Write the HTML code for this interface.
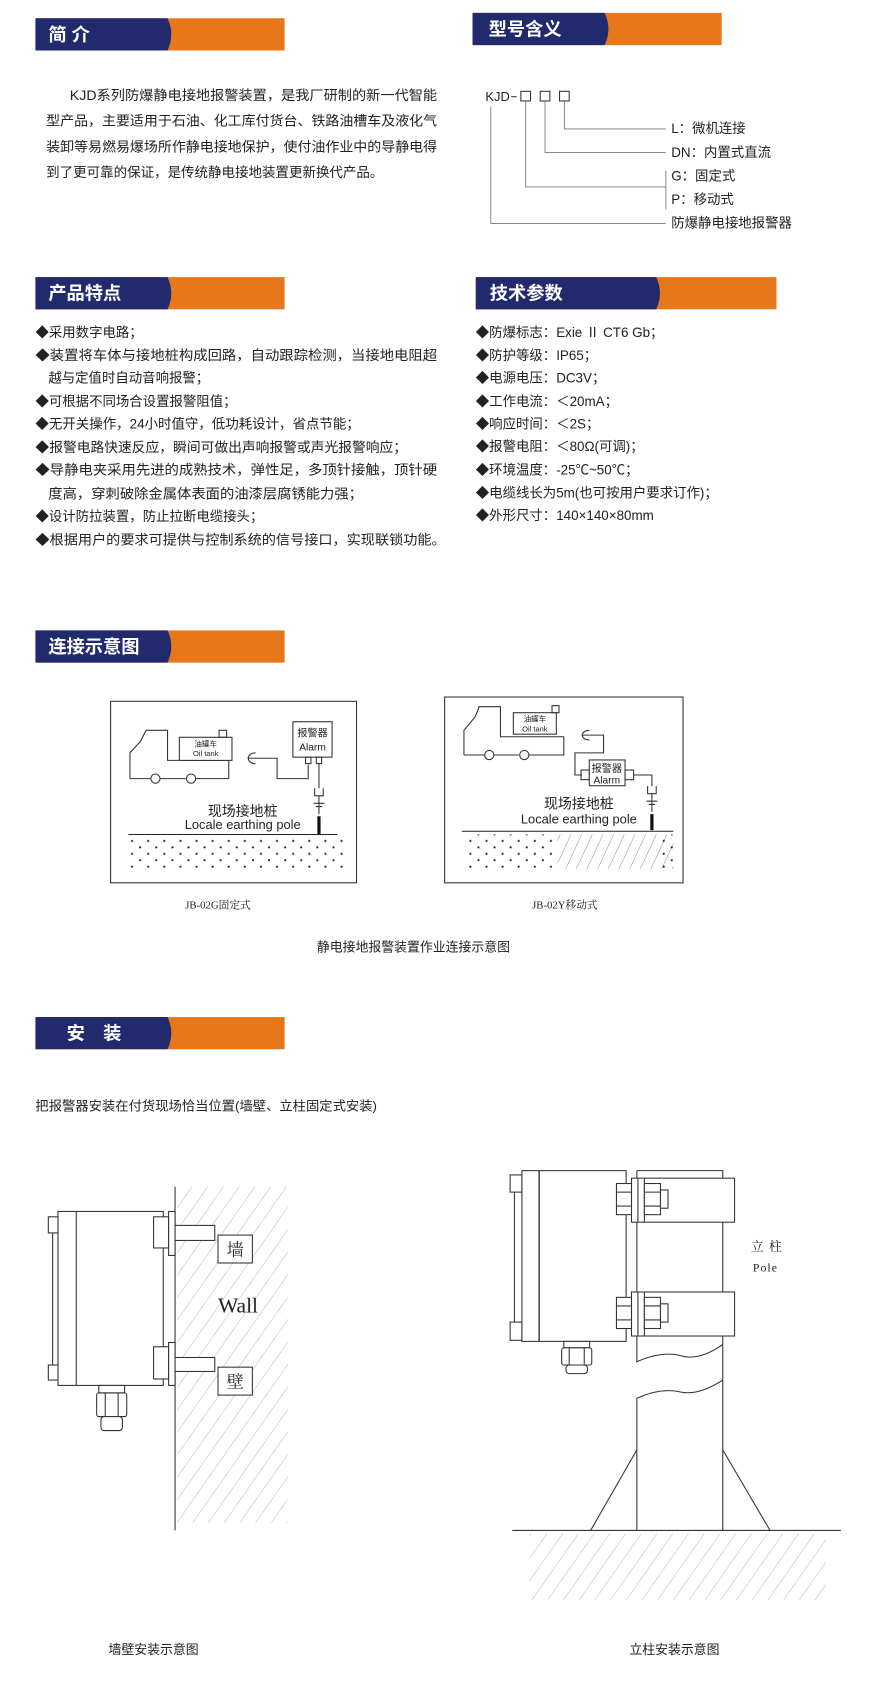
<!DOCTYPE html>
<html><head><meta charset="utf-8"><style>
html,body{margin:0;padding:0;background:#fff;}
svg{display:block;}
text{font-family:"Liberation Sans","Noto Sans CJK SC",sans-serif;fill:#222;}
.h{fill:#fff;font-weight:bold;font-size:17px;}
.t{font-size:12.5px;}
.s{font-family:"Liberation Serif","Noto Serif CJK SC",serif;}
.l{stroke:#333;stroke-width:1;fill:none;}
.lw{stroke:#333;stroke-width:1;fill:#fff;}
</style></head><body>
<svg width="880" height="1681" viewBox="0 0 819.4 1565.2" xmlns="http://www.w3.org/2000/svg">
<defs>
<pattern id="hat" width="12" height="12" patternUnits="userSpaceOnUse" patternTransform="rotate(35)">
<line x1="0" y1="0" x2="0" y2="12" stroke="#aaa" stroke-width="0.8"/></pattern>
<pattern id="hat2" width="9" height="9" patternUnits="userSpaceOnUse" patternTransform="rotate(25)">
<line x1="0" y1="0" x2="0" y2="9" stroke="#666" stroke-width="0.7"/></pattern>
<pattern id="dots" width="15" height="12" patternUnits="userSpaceOnUse">
<circle cx="3" cy="3" r="1" fill="#222"/><circle cx="10.5" cy="9" r="1" fill="#222"/></pattern>
</defs>

<!-- headers -->
<g>
<rect x="33" y="17" width="232" height="30" fill="#e6781b"/>
<path d="M33,17 H156 Q163,32 156,47 H33 Z" fill="#222a6e"/>
<text x="45" y="38" class="h">简 介</text>

<rect x="440" y="12" width="232" height="30" fill="#e6781b"/>
<path d="M440,12 H563 Q570,27 563,42 H440 Z" fill="#222a6e"/>
<text x="455" y="33" class="h">型号含义</text>

<rect x="33" y="258" width="232" height="30" fill="#e6781b"/>
<path d="M33,258 H156 Q163,273 156,288 H33 Z" fill="#222a6e"/>
<text x="45" y="279" class="h">产品特点</text>

<rect x="443" y="258" width="280" height="30" fill="#e6781b"/>
<path d="M443,258 H611 Q618,273 611,288 H443 Z" fill="#222a6e"/>
<text x="456" y="279" class="h">技术参数</text>

<rect x="33" y="587" width="232" height="30" fill="#e6781b"/>
<path d="M33,587 H156 Q163,602 156,617 H33 Z" fill="#222a6e"/>
<text x="45" y="608" class="h">连接示意图</text>

<rect x="33" y="947" width="232" height="30" fill="#e6781b"/>
<path d="M33,947 H156 Q163,962 156,977 H33 Z" fill="#222a6e"/>
<text x="62" y="968" class="h">安　装</text>
</g>

<!-- intro -->
<g class="t">
<text x="65" y="93" textLength="342" lengthAdjust="spacingAndGlyphs">KJD系列防爆静电接地报警装置，是我厂研制的新一代智能</text>
<text x="43" y="117" textLength="364" lengthAdjust="spacingAndGlyphs">型产品，主要适用于石油、化工库付货台、铁路油槽车及液化气</text>
<text x="43" y="141" textLength="364" lengthAdjust="spacingAndGlyphs">装卸等易燃易爆场所作静电接地保护，使付油作业中的导静电得</text>
<text x="43" y="165" textLength="314" lengthAdjust="spacingAndGlyphs">到了更可靠的保证，是传统静电接地装置更新换代产品。</text>
</g>

<!-- model -->
<g class="t">
<text x="452" y="94" font-size="12">KJD</text>
<line x1="476" y1="90" x2="481" y2="90" stroke="#333"/>
<rect x="485" y="85" width="9" height="9" class="l" stroke="#777"/>
<rect x="503" y="85" width="9" height="9" class="l" stroke="#777"/>
<rect x="521" y="85" width="9" height="9" class="l" stroke="#777"/>
<path d="M525.5,94 V120 H620 M507.5,94 V142 H620 M489.5,94 V174 H620 M620,159 V195 M457,99 V208 H620" stroke="#777" fill="none" stroke-width="0.8"/>
<text x="625" y="124">L：微机连接</text>
<text x="625" y="146">DN：内置式直流</text>
<text x="625" y="168">G：固定式</text>
<text x="625" y="190">P：移动式</text>
<text x="625" y="212">防爆静电接地报警器</text>
</g>

<!-- features -->
<g class="t">
<text x="33" y="314">◆采用数字电路；</text>
<text x="33" y="335" textLength="374" lengthAdjust="spacingAndGlyphs">◆装置将车体与接地桩构成回路，自动跟踪检测，当接地电阻超</text>
<text x="45" y="356">越与定值时自动音响报警；</text>
<text x="33" y="378">◆可根据不同场合设置报警阻值；</text>
<text x="33" y="399" textLength="302" lengthAdjust="spacingAndGlyphs">◆无开关操作，24小时值守，低功耗设计，省点节能；</text>
<text x="33" y="421" textLength="346" lengthAdjust="spacingAndGlyphs">◆报警电路快速反应，瞬间可做出声响报警或声光报警响应；</text>
<text x="33" y="442" textLength="374" lengthAdjust="spacingAndGlyphs">◆导静电夹采用先进的成熟技术，弹性足，多顶针接触，顶针硬</text>
<text x="45" y="464" textLength="293" lengthAdjust="spacingAndGlyphs">度高，穿刺破除金属体表面的油漆层腐锈能力强；</text>
<text x="33" y="485">◆设计防拉装置，防止拉断电缆接头；</text>
<text x="33" y="507" textLength="382" lengthAdjust="spacingAndGlyphs">◆根据用户的要求可提供与控制系统的信号接口，实现联锁功能。</text>
</g>
<g class="t">
<text x="443" y="314">◆防爆标志：Exie Ⅱ CT6 Gb；</text>
<text x="443" y="335">◆防护等级：IP65；</text>
<text x="443" y="356">◆电源电压：DC3V；</text>
<text x="443" y="378">◆工作电流：＜20mA；</text>
<text x="443" y="399">◆响应时间：＜2S；</text>
<text x="443" y="420">◆报警电阻：＜80Ω(可调)；</text>
<text x="443" y="442">◆环境温度：-25℃~50℃；</text>
<text x="443" y="463">◆电缆线长为5m(也可按用户要求订作)；</text>
<text x="443" y="484">◆外形尺寸：140×140×80mm</text>
</g>

<!-- connection diagram 1 -->
<g>
<rect x="103" y="653" width="229" height="169" class="l" stroke="#444"/>
<path d="M121,725 V701 L131,690 Q134,684 136,680 H156 V708 H213 V725 H182 M173,725 H149 M140,725 H121" class="l"/>
<circle cx="144.7" cy="725" r="4.3" class="l"/>
<circle cx="177.9" cy="725" r="4.3" class="l"/>
<rect x="167" y="686.5" width="49" height="21.5" class="lw"/>
<rect x="204" y="680" width="7" height="6.5" class="l"/>
<text x="191.5" y="695" font-size="7" text-anchor="middle">油罐车</text>
<text x="191.5" y="704" font-size="7" text-anchor="middle">Oil tank</text>
<path d="M238,701 Q232,701 231,706 Q232,711 238,711 M231,706 H247 V706 H258 V725 H287 V712" class="l"/>
<rect x="272.7" y="672" width="36.5" height="33" class="lw"/>
<text x="291" y="686" font-size="9.5" text-anchor="middle">报警器</text>
<text x="291" y="699" font-size="9.5" text-anchor="middle">Alarm</text>
<rect x="284.5" y="705" width="5" height="6" class="l"/><rect x="294.5" y="705" width="5" height="6" class="l"/>
<path d="M297,711 V734 M293,734 V741 H301 V734 M292,748 H302 M294,751 H300 M297,741 V758" class="l"/>
<rect x="295.5" y="760" width="3" height="17" fill="#111"/>
<line x1="119.7" y1="777" x2="314" y2="777" stroke="#222" stroke-width="1"/>
<rect x="120" y="780" width="200" height="32" fill="url(#dots)"/>
<text x="226" y="760" font-size="13" text-anchor="middle">现场接地桩</text>
<text x="226" y="772" font-size="12" text-anchor="middle">Locale  earthing pole</text>
</g>

<!-- connection diagram 2 -->
<g>
<rect x="414" y="649" width="222" height="173" class="l" stroke="#444"/>
<path d="M432,703 V680 L442,668 Q445,662 446,658 H466 V686 H525 V703 H493 M483,703 H460 M451,703 H432" class="l"/>
<circle cx="455.6" cy="703" r="4.3" class="l"/>
<circle cx="488.2" cy="703" r="4.3" class="l"/>
<rect x="478" y="663.6" width="40" height="20" class="lw"/>
<rect x="514" y="657" width="6.5" height="6.6" class="l"/>
<text x="498" y="672" font-size="7" text-anchor="middle">油罐车</text>
<text x="498" y="681" font-size="7" text-anchor="middle">Oil tank</text>
<path d="M549,680 Q543,680 542,684.5 Q543,689 549,689 M542,684.5 H562 V701 H535.4 V721.6 H542" class="l"/>
<rect x="541" y="717" width="7.7" height="9" class="l"/>
<rect x="548.7" y="707.6" width="33.3" height="24" class="lw"/>
<rect x="582" y="717" width="8" height="9" class="l"/>
<text x="565" y="719" font-size="9.5" text-anchor="middle">报警器</text>
<text x="565" y="729.5" font-size="9.5" text-anchor="middle">Alarm</text>
<path d="M590,721.6 H607 V732 M603,732 V739 H611 V732 M602,746 H612 M604,749 H610 M607,739 V756" class="l"/>
<rect x="605.5" y="758" width="3" height="15" fill="#111"/>
<line x1="430" y1="774" x2="627" y2="774" stroke="#222" stroke-width="1"/>
<rect x="432" y="777" width="84" height="32" fill="url(#dots)"/>
<rect x="519" y="777" width="108" height="32" fill="url(#hat2)"/>
<rect x="612" y="777" width="15" height="32" fill="url(#dots)"/>
<text x="539" y="753" font-size="13" text-anchor="middle">现场接地桩</text>
<text x="539" y="767" font-size="12" text-anchor="middle">Locale earthing pole</text>
</g>
<text x="203" y="846" font-size="10" class="s" text-anchor="middle">JB-02G固定式</text>
<text x="526" y="846" font-size="10" class="s" text-anchor="middle">JB-02Y移动式</text>
<text x="385" y="886" font-size="12" text-anchor="middle">静电接地报警装置作业连接示意图</text>

<!-- install -->
<text x="33" y="1034" font-size="12" textLength="318" lengthAdjust="spacingAndGlyphs">把报警器安装在付货现场恰当位置(墙壁、立柱固定式安装)</text>

<!-- wall diagram -->
<g>
<rect x="165" y="1105" width="103" height="313" fill="url(#hat)"/>
<line x1="163" y1="1105" x2="163" y2="1425" stroke="#333"/>
<rect x="45" y="1133" width="9" height="15" class="lw"/>
<rect x="45" y="1271" width="9" height="14" class="lw"/>
<line x1="49" y1="1148" x2="49" y2="1271" stroke="#333"/>
<rect x="54" y="1128" width="98" height="162" class="lw"/>
<line x1="71" y1="1128" x2="71" y2="1290" stroke="#333"/>
<rect x="143" y="1133" width="14" height="29" class="lw"/>
<rect x="157" y="1128" width="6" height="41" class="lw"/>
<rect x="163" y="1141" width="37" height="14" class="lw"/>
<rect x="203" y="1150" width="32" height="26" class="lw"/>
<text x="219" y="1169" font-size="16" class="s" text-anchor="middle">墙</text>
<rect x="143" y="1254" width="14" height="30" class="lw"/>
<rect x="157" y="1250" width="6" height="40" class="lw"/>
<rect x="163" y="1264" width="37" height="13" class="lw"/>
<rect x="203" y="1273" width="32" height="26" class="lw"/>
<text x="219" y="1292" font-size="16" class="s" text-anchor="middle">壁</text>
<text x="203" y="1222" font-size="20" class="s">Wall</text>
<rect x="92" y="1290" width="24" height="7" class="lw"/>
<rect x="90" y="1297" width="28" height="22" rx="2" class="lw"/>
<rect x="94" y="1319" width="20" height="13" rx="3" class="lw"/>
<line x1="98" y1="1297" x2="98" y2="1319" stroke="#333"/><line x1="110" y1="1297" x2="110" y2="1319" stroke="#333"/>
</g>
<text x="143" y="1540" font-size="12" text-anchor="middle">墙壁安装示意图</text>

<!-- pole diagram -->
<g>
<rect x="493" y="1428" width="276" height="62" fill="url(#hat)"/>
<line x1="477" y1="1425" x2="783" y2="1425" stroke="#333"/>
<path d="M550,1425 L593,1350 M717,1425 L673,1350" class="l"/>
<path d="M593,1090 H673 V1425 M593,1090 V1268 Q615,1258 633,1262 Q650,1268 673,1252" class="l"/>
<path d="M593,1425 V1302 Q615,1292 633,1296 Q650,1300 673,1285" class="l"/>
<rect x="475" y="1094" width="11" height="16" class="lw"/>
<rect x="475" y="1231" width="11" height="17" class="lw"/>
<line x1="479" y1="1110" x2="479" y2="1231" stroke="#333"/>
<rect x="486" y="1090" width="97" height="159" class="lw"/>
<line x1="502" y1="1090" x2="502" y2="1249" stroke="#333" stroke-width="1.3"/>
<rect x="588" y="1097" width="96" height="41" class="lw"/>
<rect x="588" y="1203" width="96" height="41" class="lw"/>
<g class="l">
<rect x="574" y="1102" width="14" height="29" fill="#fff"/><line x1="574" y1="1110" x2="588" y2="1110"/><line x1="574" y1="1123" x2="588" y2="1123"/>
<line x1="594" y1="1097" x2="594" y2="1138"/><line x1="600" y1="1097" x2="600" y2="1138"/>
<rect x="600" y="1102" width="15" height="29" fill="#fff"/><line x1="600" y1="1110" x2="615" y2="1110"/><line x1="600" y1="1123" x2="615" y2="1123"/>
<rect x="615" y="1108" width="7" height="17" fill="#fff"/>
<rect x="574" y="1208" width="14" height="29" fill="#fff"/><line x1="574" y1="1216" x2="588" y2="1216"/><line x1="574" y1="1229" x2="588" y2="1229"/>
<line x1="594" y1="1203" x2="594" y2="1244"/><line x1="600" y1="1203" x2="600" y2="1244"/>
<rect x="600" y="1208" width="15" height="29" fill="#fff"/><line x1="600" y1="1216" x2="615" y2="1216"/><line x1="600" y1="1229" x2="615" y2="1229"/>
<rect x="615" y="1214" width="7" height="17" fill="#fff"/>
</g>
<rect x="525" y="1249" width="24" height="6" class="lw"/>
<rect x="523" y="1255" width="28" height="16" rx="2" class="lw"/>
<rect x="527" y="1271" width="20" height="8" rx="3" class="lw"/>
<line x1="530" y1="1255" x2="530" y2="1271" stroke="#333"/><line x1="544" y1="1255" x2="544" y2="1271" stroke="#333"/>
<text x="699" y="1165" font-size="12" class="s" letter-spacing="5">立柱</text>
<text x="701" y="1184" font-size="11" class="s" letter-spacing="1">Pole</text>
</g>
<text x="628" y="1540" font-size="12" text-anchor="middle">立柱安装示意图</text>
</svg>
</body></html>
